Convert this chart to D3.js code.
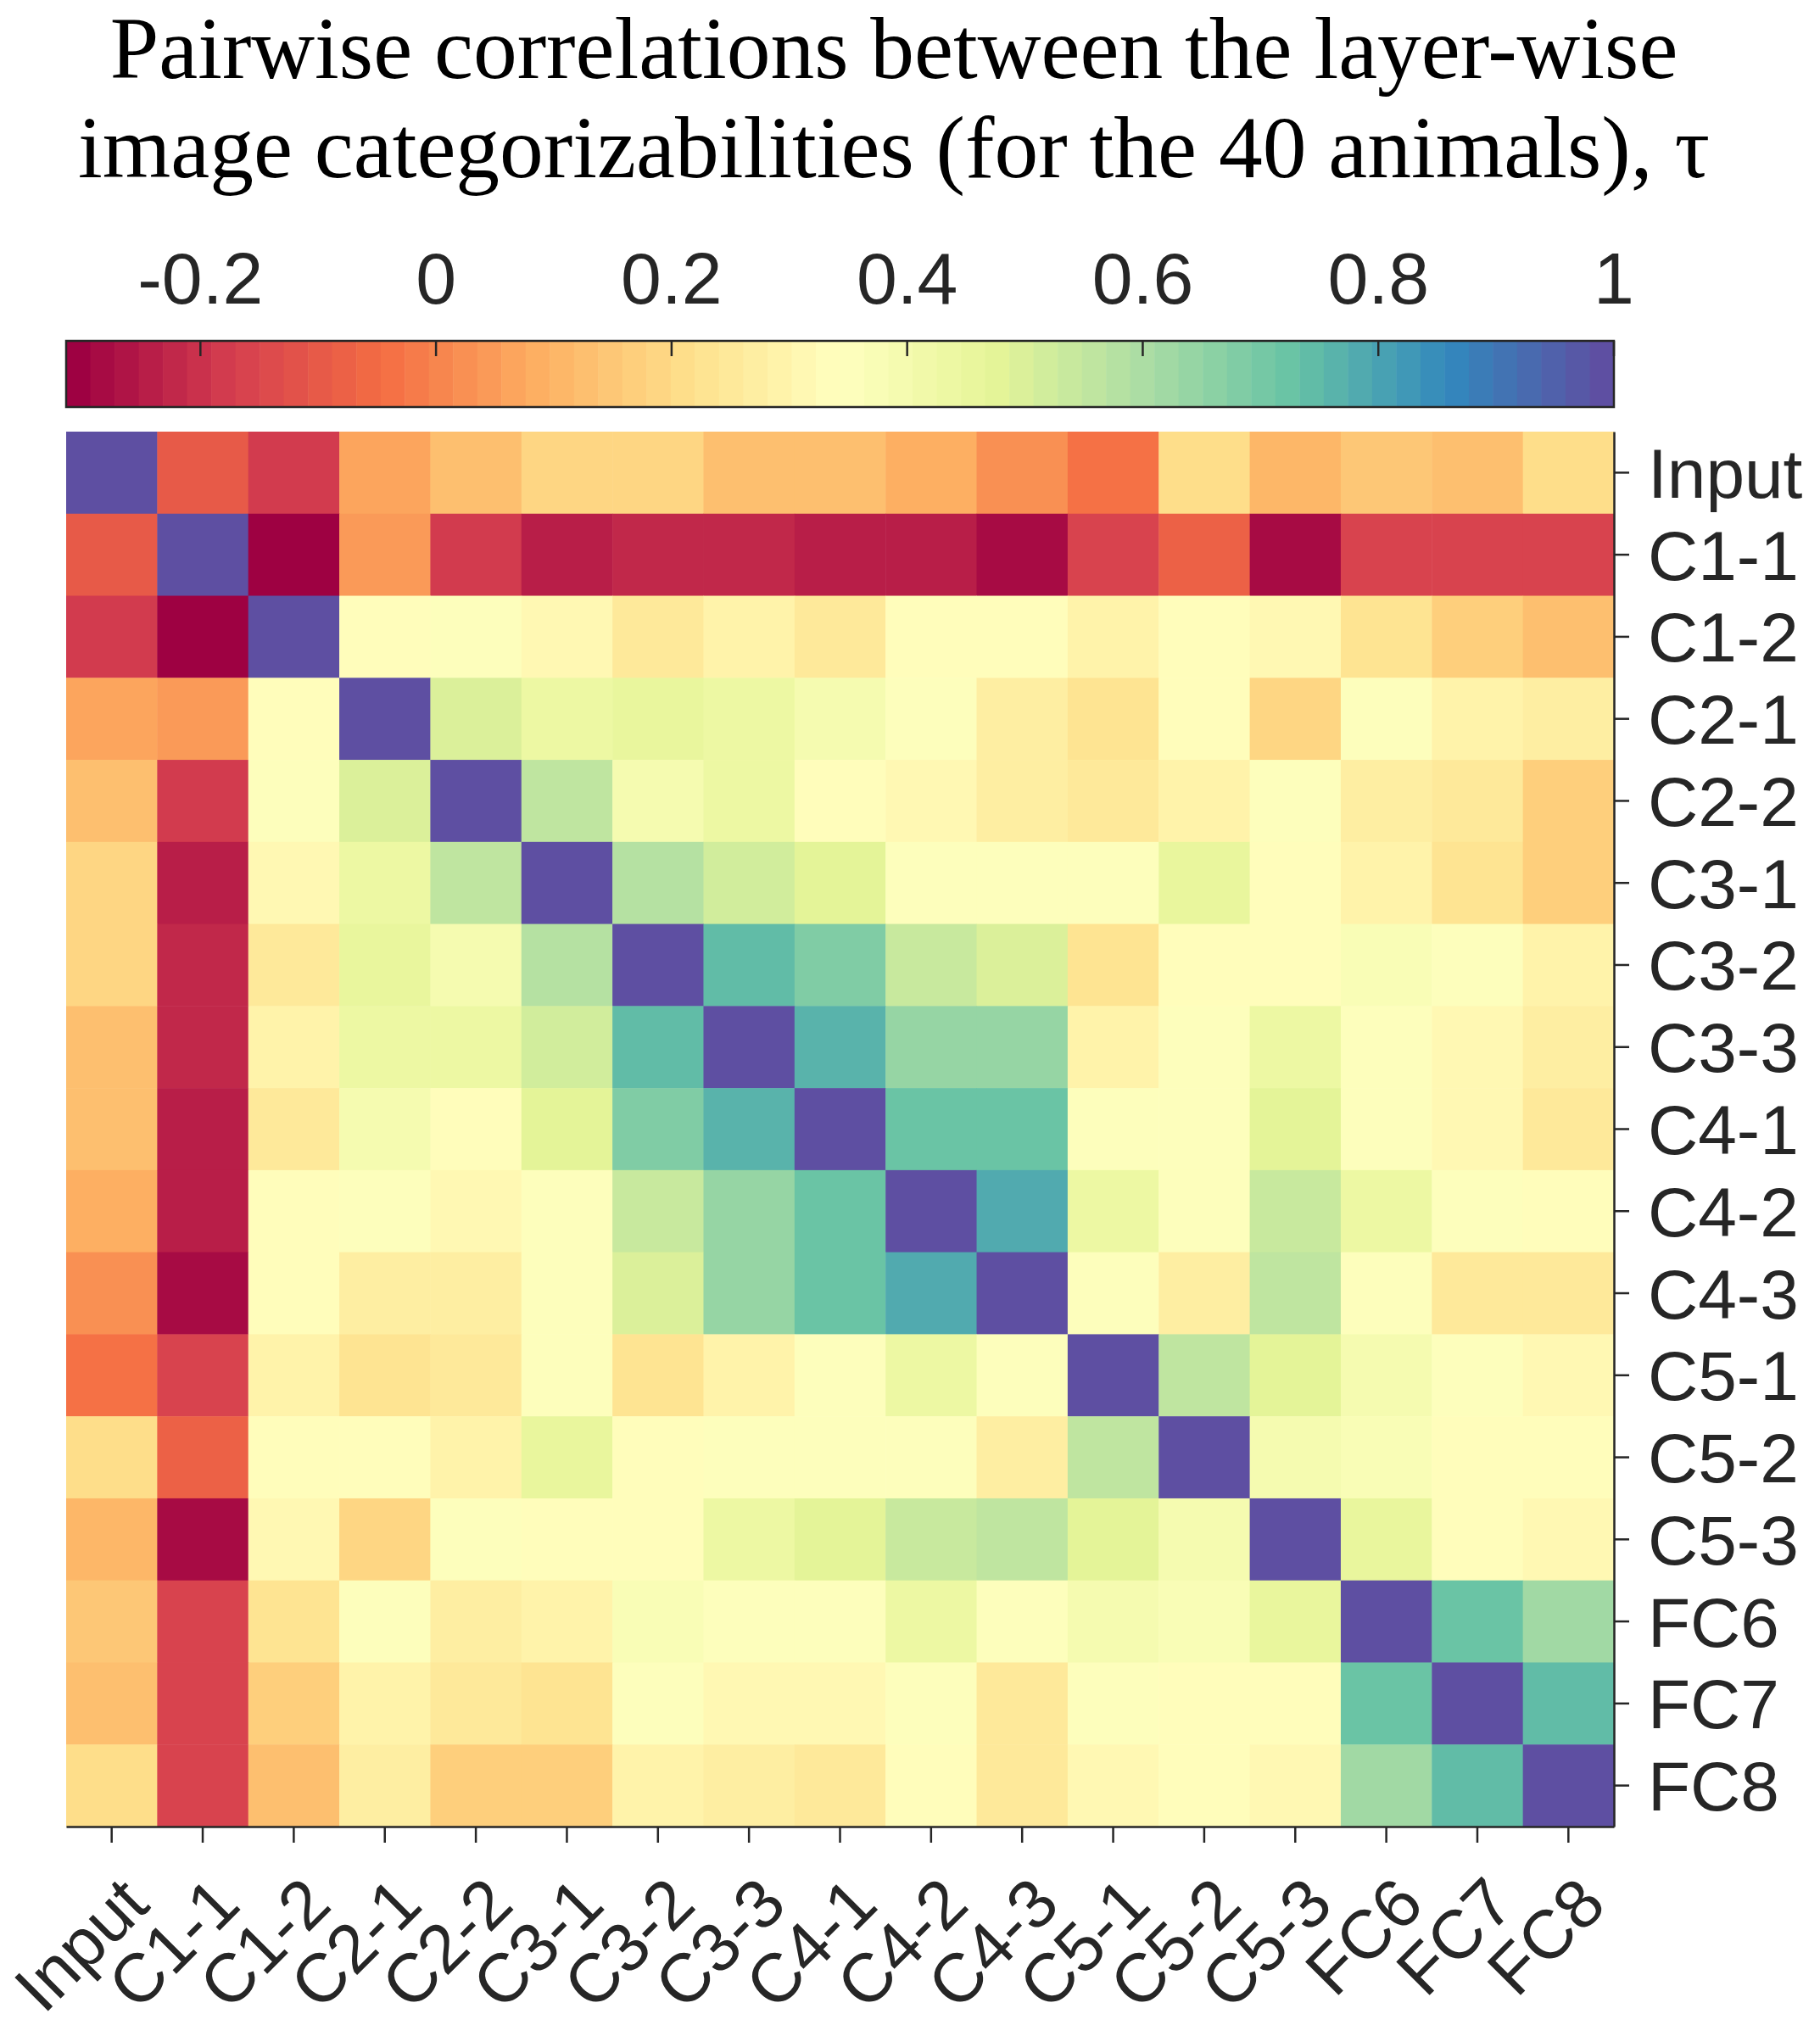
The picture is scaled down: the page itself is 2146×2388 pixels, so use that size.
<!DOCTYPE html>
<html>
<head>
<meta charset="utf-8">
<script src="https://cdn.jsdelivr.net/npm/d3@7"></script>
<style>
  html, body { margin: 0; padding: 0; background: #fff; }
  svg { display: block; }
</style>
</head>
<body>
<script>
var layers = ['Input', 'C1-1', 'C1-2', 'C2-1', 'C2-2', 'C3-1', 'C3-2', 'C3-3',
              'C4-1', 'C4-2', 'C4-3', 'C5-1', 'C5-2', 'C5-3', 'FC6', 'FC7', 'FC8'];

var colorTicks = [-0.2, 0, 0.2, 0.4, 0.6, 0.8, 1];
var colorLimits = [-0.314, 1];

var titleLines = ['Pairwise correlations between the layer-wise',
                  'image categorizabilities (for the 40 animals), \u03c4'];

// Kendall tau between layers, one row per layer
var tau = [
  [ 1.000, -0.100, -0.180,  0.060,  0.125,  0.190,  0.190,  0.125,  0.125,  0.085,  0.025, -0.035,  0.205,  0.100,  0.145,  0.125,  0.200],
  [-0.100,  1.000, -0.314,  0.045, -0.190, -0.235, -0.220, -0.220, -0.235, -0.250, -0.290, -0.170, -0.085, -0.290, -0.170, -0.155, -0.155],
  [-0.180, -0.314,  1.000,  0.335,  0.355,  0.320,  0.255,  0.300,  0.250,  0.340,  0.335,  0.300,  0.335,  0.320,  0.235,  0.170,  0.120],
  [ 0.060,  0.045,  0.335,  1.000,  0.500,  0.430,  0.450,  0.430,  0.400,  0.350,  0.280,  0.240,  0.330,  0.180,  0.345,  0.300,  0.270],
  [ 0.125, -0.190,  0.355,  0.500,  1.000,  0.560,  0.400,  0.430,  0.330,  0.320,  0.275,  0.250,  0.300,  0.345,  0.275,  0.250,  0.175],
  [ 0.190, -0.235,  0.320,  0.430,  0.560,  1.000,  0.580,  0.515,  0.478,  0.345,  0.345,  0.345,  0.450,  0.340,  0.300,  0.235,  0.165],
  [ 0.190, -0.220,  0.255,  0.450,  0.400,  0.580,  1.000,  0.748,  0.684,  0.532,  0.496,  0.235,  0.340,  0.335,  0.370,  0.345,  0.300],
  [ 0.125, -0.220,  0.300,  0.430,  0.430,  0.515,  0.748,  1.000,  0.764,  0.642,  0.642,  0.300,  0.345,  0.430,  0.355,  0.305,  0.275],
  [ 0.125, -0.235,  0.250,  0.400,  0.330,  0.478,  0.684,  0.764,  1.000,  0.728,  0.714,  0.345,  0.345,  0.478,  0.360,  0.305,  0.250],
  [ 0.085, -0.250,  0.340,  0.350,  0.320,  0.345,  0.532,  0.642,  0.728,  1.000,  0.785,  0.430,  0.345,  0.530,  0.430,  0.345,  0.325],
  [ 0.025, -0.290,  0.335,  0.280,  0.275,  0.345,  0.496,  0.642,  0.714,  0.785,  1.000,  0.345,  0.280,  0.555,  0.345,  0.255,  0.250],
  [-0.035, -0.170,  0.300,  0.240,  0.250,  0.345,  0.235,  0.300,  0.345,  0.430,  0.345,  1.000,  0.555,  0.478,  0.400,  0.345,  0.305],
  [ 0.205, -0.085,  0.335,  0.330,  0.300,  0.450,  0.340,  0.345,  0.345,  0.345,  0.280,  0.555,  1.000,  0.390,  0.375,  0.330,  0.330],
  [ 0.100, -0.290,  0.320,  0.180,  0.345,  0.340,  0.335,  0.430,  0.478,  0.530,  0.555,  0.478,  0.390,  1.000,  0.450,  0.330,  0.305],
  [ 0.145, -0.170,  0.235,  0.345,  0.275,  0.300,  0.370,  0.355,  0.360,  0.430,  0.345,  0.400,  0.375,  0.450,  1.000,  0.728,  0.610],
  [ 0.125, -0.155,  0.170,  0.300,  0.250,  0.235,  0.345,  0.305,  0.305,  0.345,  0.255,  0.345,  0.330,  0.330,  0.728,  1.000,  0.748],
  [ 0.200, -0.155,  0.120,  0.270,  0.175,  0.165,  0.300,  0.275,  0.250,  0.325,  0.250,  0.305,  0.330,  0.305,  0.610,  0.748,  1.000]
];

var W = 2146, H = 2388;
var plot = {left: 78, right: 1903, top: 509, bottom: 2154};
var bar = {top: 402, bottom: 480};
var ink = '#262626';
var sans = '"Liberation Sans", Arial, Helvetica, sans-serif';
var serif = '"Liberation Serif", "Times New Roman", Times, serif';

// 64-step spectral colormap, like the MATLAB figure
var nColors = 64;
var spectral = d3.piecewise(d3.interpolateRgb, d3.schemeSpectral[11]);
var palette = d3.range(nColors).map(function(i) { return spectral(i / (nColors - 1)); });
var color = d3.scaleQuantize().domain(colorLimits).range(palette);

var svg = d3.select('body').append('svg')
    .attr('width', W)
    .attr('height', H);

svg.append('rect').attr('width', W).attr('height', H).attr('fill', '#fff');

// title
svg.append('g')
    .selectAll('text')
    .data(titleLines)
    .enter().append('text')
        .attr('x', 1054)
        .attr('y', function(d, i) { return 92 + i * 117; })
        .attr('text-anchor', 'middle')
        .style('font-family', serif)
        .style('font-size', '103.5px')
        .attr('fill', '#000')
        .text(function(d) { return d; });

// colorbar
var scaleC = d3.scaleLinear().domain(colorLimits).range([plot.left, plot.right]);
var step = (colorLimits[1] - colorLimits[0]) / nColors;

var $bar = svg.append('g').attr('class', 'colorbar');
$bar.selectAll('rect.band')
    .data(palette)
    .enter().append('rect')
        .attr('class', 'band')
        .attr('x', function(d, i) { return scaleC(colorLimits[0] + i * step); })
        .attr('y', bar.top)
        .attr('width', function(d, i) { return scaleC(colorLimits[0] + (i + 1) * step) - scaleC(colorLimits[0] + i * step) + 0.5; })
        .attr('height', bar.bottom - bar.top)
        .attr('fill', function(d) { return d; });

$bar.append('rect')
    .attr('x', plot.left).attr('y', bar.top)
    .attr('width', plot.right - plot.left).attr('height', bar.bottom - bar.top)
    .attr('fill', 'none').attr('stroke', ink).attr('stroke-width', 2.5);

$bar.selectAll('line.tick')
    .data(colorTicks)
    .enter().append('line')
        .attr('class', 'tick')
        .attr('x1', scaleC).attr('x2', scaleC)
        .attr('y1', bar.top).attr('y2', bar.top + 18)
        .attr('stroke', ink).attr('stroke-width', 2.5);

$bar.selectAll('text')
    .data(colorTicks)
    .enter().append('text')
        .attr('x', scaleC)
        .attr('y', 358)
        .attr('text-anchor', 'middle')
        .style('font-family', sans)
        .style('font-size', '86px')
        .attr('fill', ink)
        .text(function(d) { return d3.format('')(d).replace('\u2212', '-'); });

// heatmap
var x = d3.scaleBand().domain(d3.range(layers.length)).range([plot.left, plot.right]);
var y = d3.scaleBand().domain(d3.range(layers.length)).range([plot.top, plot.bottom]);

var cells = [];
tau.forEach(function(row, i) {
    row.forEach(function(v, j) { cells.push({row: i, col: j, value: v}); });
});

svg.append('g').attr('class', 'cells')
    .selectAll('rect')
    .data(cells)
    .enter().append('rect')
        .attr('x', function(d) { return x(d.col); })
        .attr('y', function(d) { return y(d.row); })
        .attr('width', x.bandwidth() + 0.5)
        .attr('height', y.bandwidth() + 0.5)
        .attr('fill', function(d) { return color(d.value); });

// axes: ticks outward, labels on bottom (rotated) and right
var axisX = d3.axisBottom(x).tickSize(19).tickSizeOuter(0).tickFormat('');
var axisY = d3.axisRight(y).tickSize(18).tickSizeOuter(0).tickFormat('');

var $x = svg.append('g')
    .attr('class', 'x axis')
    .attr('transform', 'translate(0,' + plot.bottom + ')')
    .call(axisX);
var $y = svg.append('g')
    .attr('class', 'y axis')
    .attr('transform', 'translate(' + plot.right + ',0)')
    .call(axisY);

svg.selectAll('.axis path, .axis line')
    .attr('stroke', ink)
    .attr('stroke-width', 2.5);

svg.append('g').attr('class', 'x labels')
    .selectAll('text')
    .data(layers)
    .enter().append('text')
        .attr('transform', function(d, i) {
            return 'translate(' + (x(i) + x.bandwidth() / 2 + 6) + ',2208) rotate(-45)';
        })
        .attr('dy', '0.72em')
        .attr('text-anchor', 'end')
        .style('font-family', sans)
        .style('font-size', '81px')
        .attr('fill', ink)
        .text(function(d) { return d; });

svg.append('g').attr('class', 'y labels')
    .selectAll('text')
    .data(layers)
    .enter().append('text')
        .attr('x', 1943)
        .attr('y', function(d, i) { return y(i) + y.bandwidth() / 2; })
        .attr('dy', '0.36em')
        .style('font-family', sans)
        .style('font-size', '82px')
        .attr('fill', ink)
        .text(function(d) { return d; });
</script>
</body>
</html>
